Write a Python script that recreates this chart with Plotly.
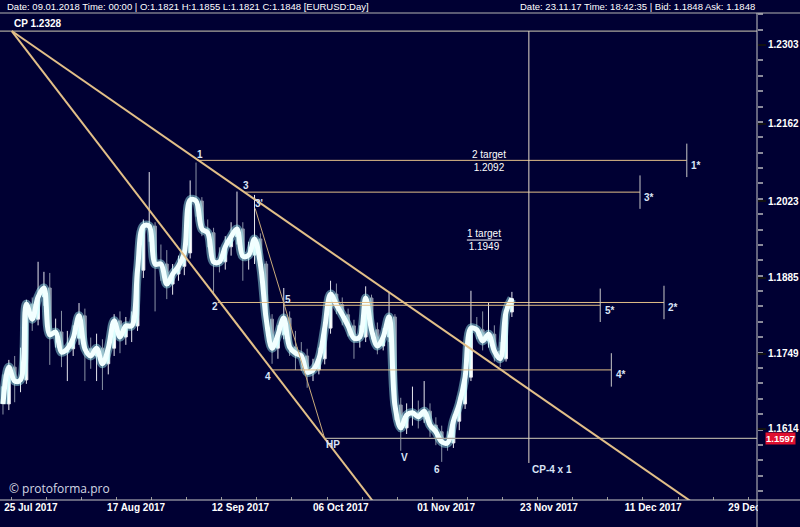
import plotly.graph_objects as go

# ---------------- data (daily EURUSD bars, bar index 0 = 25 Jul 2017) ----------------
open_ = [1.1690, 1.1659, 1.1725, 1.1700, 1.1702, 1.1838, 1.1811, 1.1851, 1.1867, 1.1783,
         1.1788, 1.1752, 1.1758, 1.1777, 1.1817, 1.1758, 1.1745, 1.1759, 1.1731, 1.1759,
         1.1808, 1.1779, 1.1799, 1.1799, 1.1899, 1.1978, 1.1978, 1.1910, 1.1910, 1.1874,
         1.1892, 1.1906, 1.1930, 1.2025, 1.2023, 1.1973, 1.1966, 1.1914, 1.1914, 1.1941,
         1.1959, 1.1973, 1.1924, 1.1926, 1.1955, 1.1910, 1.1811, 1.1759, 1.1783, 1.1813,
         1.1761, 1.1750, 1.1745, 1.1716, 1.1720, 1.1740, 1.1795, 1.1856, 1.1837, 1.1819,
         1.1799, 1.1777, 1.1779, 1.1849, 1.1792, 1.1763, 1.1779, 1.1815, 1.1657, 1.1616,
         1.1639, 1.1643, 1.1636, 1.1646, 1.1621, 1.1609, 1.1591, 1.1589, 1.1628, 1.1659,
         1.1707, 1.1795, 1.1792, 1.1772, 1.1784, 1.1754, 1.1740, 1.1824]
high = [1.1712, 1.1738, 1.1745, 1.1760, 1.1846, 1.1850, 1.1914, 1.1896, 1.1894, 1.1812,
        1.1826, 1.1790, 1.1800, 1.1840, 1.1830, 1.1778, 1.1785, 1.1775, 1.1770, 1.1820,
        1.1825, 1.1815, 1.1825, 1.1910, 1.1990, 1.2075, 1.1985, 1.1945, 1.1935, 1.1910,
        1.1925, 1.1945, 1.2060, 1.2092, 1.2030, 1.1990, 1.1975, 1.1940, 1.1960, 1.1985,
        1.2040, 1.1985, 1.1950, 1.2034, 1.1965, 1.1915, 1.1820, 1.1800, 1.1867, 1.1825,
        1.1790, 1.1770, 1.1758, 1.1740, 1.1760, 1.1808, 1.1880, 1.1875, 1.1850, 1.1830,
        1.1810, 1.1800, 1.1870, 1.1855, 1.1805, 1.1795, 1.1860, 1.1820, 1.1670, 1.1660,
        1.1690, 1.1665, 1.1700, 1.1660, 1.1635, 1.1620, 1.1610, 1.1640, 1.1672, 1.1720,
        1.1862, 1.1815, 1.1825, 1.1840, 1.1800, 1.1770, 1.1835, 1.1860]
low = [1.1640, 1.1648, 1.1662, 1.1680, 1.1695, 1.1790, 1.1800, 1.1835, 1.1729, 1.1760,
       1.1725, 1.1700, 1.1745, 1.1765, 1.1700, 1.1722, 1.1700, 1.1684, 1.1712, 1.1745,
       1.1750, 1.1765, 1.1770, 1.1790, 1.1885, 1.1950, 1.1825, 1.1880, 1.1847, 1.1855,
       1.1880, 1.1890, 1.1920, 1.1995, 1.1960, 1.1940, 1.1858, 1.1895, 1.1900, 1.1925,
       1.1945, 1.1880, 1.1900, 1.1910, 1.1895, 1.1790, 1.1731, 1.1740, 1.1775, 1.1745,
       1.1720, 1.1718, 1.1688, 1.1700, 1.1712, 1.1730, 1.1785, 1.1820, 1.1800, 1.1780,
       1.1740, 1.1760, 1.1770, 1.1775, 1.1748, 1.1755, 1.1770, 1.1630, 1.1575, 1.1605,
       1.1620, 1.1615, 1.1625, 1.1600, 1.1585, 1.1555, 1.1575, 1.1580, 1.1612, 1.1650,
       1.1700, 1.1775, 1.1755, 1.1760, 1.1735, 1.1725, 1.1735, 1.1815]
close = [1.1659, 1.1725, 1.1700, 1.1702, 1.1838, 1.1811, 1.1851, 1.1867, 1.1783, 1.1788,
         1.1752, 1.1758, 1.1777, 1.1817, 1.1758, 1.1745, 1.1759, 1.1731, 1.1759, 1.1808,
         1.1779, 1.1799, 1.1799, 1.1899, 1.1978, 1.1978, 1.1910, 1.1910, 1.1874, 1.1892,
         1.1906, 1.1930, 1.2025, 1.2023, 1.1973, 1.1966, 1.1914, 1.1914, 1.1941, 1.1959,
         1.1973, 1.1924, 1.1926, 1.1955, 1.1910, 1.1811, 1.1759, 1.1783, 1.1813, 1.1761,
         1.1750, 1.1745, 1.1716, 1.1720, 1.1740, 1.1795, 1.1856, 1.1837, 1.1819, 1.1799,
         1.1777, 1.1779, 1.1849, 1.1792, 1.1763, 1.1779, 1.1815, 1.1657, 1.1616, 1.1639,
         1.1643, 1.1636, 1.1646, 1.1621, 1.1609, 1.1591, 1.1589, 1.1628, 1.1659, 1.1707,
         1.1795, 1.1792, 1.1772, 1.1784, 1.1754, 1.1740, 1.1824, 1.1848]
bars = list(range(len(close)))

x_tick_bars = [0.2, 17.8, 35.7, 53.0, 70.8, 88.4, 106.3, 124.0]
x_tick_text = ["25 Jul 2017", "17 Aug 2017", "12 Sep 2017", "06 Oct 2017",
               "01 Nov 2017", "23 Nov 2017", "11 Dec 2017", "29 Dec 2017"]
y_tick_vals = [1.2303, 1.2162, 1.2023, 1.1885, 1.1749, 1.1614]

# key points of the construction (bar index, price)
cp_bar, cp_price = 1.5, 1.2328
hp_bar, hp_price = 55.0, 1.1597
p3_bar, p3_price = 41.4, 1.2038          # point 3 on the upper line
p3b_bar, p3b_price = 43.1, 1.2010        # point 3'
cp4_bar, cp4_low = 89.9, 1.1553          # CP-4 x 1 vertical

level_names = ["1", "3", "2", "5", "4"]
level_price = [1.2096, 1.2039, 1.1841, 1.1836, 1.1720]
level_start = [33.2, 41.4, 36.7, 47.9, 46.0]
level_end = [116.9, 108.9, 113.0, 102.1, 104.0]

point_text = ["1", "3", "3'", "2", "5", "4", "HP", "V", "6"]
point_bar = [33.7, 41.5, 43.8, 36.2, 48.7, 45.3, 56.4, 68.7, 74.2]
point_price = [1.2106, 1.2050, 1.2019, 1.1833, 1.1847, 1.1709, 1.1587, 1.1562, 1.1542]

target_text = ["2 target<br>1.2092", "1 target<br>1.1949"]
target_bar = [83.1, 82.2]
target_price = [1.2095, 1.1953]

# ---------------- layout geometry ----------------
W, H = 800, 527
ML, MR, MT, MB = 0, 43, 14, 27
PW, PH = W - ML - MR, H - MT - MB
X_RANGE = [-0.51, 128.9]
Y_RANGE = [1.14866, 1.23586]


def paper_x(px):
    return (px - ML) / PW


def paper_y(py):
    return (H - MB - py) / PH


BG = "#000033"
TAN = "#E2BF88"
GRAYL = "#A9A59D"
LBL = "#D9E4F7"
FONT = "Liberation Sans, Arial, sans-serif"

fig = go.Figure()

fig.add_trace(go.Candlestick(
    x=bars, open=open_, high=high, low=low, close=close,
    increasing=dict(line=dict(color="#E6E6EE", width=1), fillcolor="#FFFFFF"),
    decreasing=dict(line=dict(color="#8A92A6", width=1), fillcolor="#8A92A6"),
    whiskerwidth=0, hoverinfo="skip", showlegend=False))

fig.add_trace(go.Scatter(x=bars, y=close, mode="lines",
                         line=dict(color="rgba(170,255,255,0.45)", width=9, shape="spline", smoothing=1.0),
                         hoverinfo="skip", showlegend=False))
fig.add_trace(go.Scatter(x=bars, y=close, mode="lines",
                         line=dict(color="#F2FFFF", width=5, shape="spline", smoothing=1.0),
                         hoverinfo="skip", showlegend=False))


def extend(b0, p0, b1, p1, b_end):
    slope = (p1 - p0) / (b1 - b0)
    return p0 + slope * (b_end - b0)


# CP and HP horizontal lines (grey)
fig.add_trace(go.Scatter(x=[X_RANGE[0], X_RANGE[1]], y=[cp_price, cp_price], mode="lines",
                         line=dict(color=GRAYL, width=1.2), hoverinfo="skip", showlegend=False))
fig.add_trace(go.Scatter(x=[hp_bar, X_RANGE[1]], y=[hp_price, hp_price], mode="lines",
                         line=dict(color=GRAYL, width=1.2), hoverinfo="skip", showlegend=False))

# level lines
lx, ly = [], []
for s, e, p in zip(level_start, level_end, level_price):
    lx += [s, e, None]
    ly += [p, p, None]
fig.add_trace(go.Scatter(x=lx, y=ly, mode="lines", line=dict(color=TAN, width=1),
                         hoverinfo="skip", showlegend=False))

# level end markers
mx, my = [], []
for e, p in zip(level_end, level_price):
    mx += [e, e, None]
    my += [p + 0.0030, p - 0.0030, None]
fig.add_trace(go.Scatter(x=mx, y=my, mode="lines", line=dict(color="#C8C8C8", width=1),
                         hoverinfo="skip", showlegend=False))

# trend lines
far = 140
fig.add_trace(go.Scatter(x=[cp_bar, far], y=[cp_price, extend(cp_bar, cp_price, hp_bar, hp_price, far)],
                         mode="lines", line=dict(color=TAN, width=2), hoverinfo="skip", showlegend=False))
fig.add_trace(go.Scatter(x=[cp_bar, far], y=[cp_price, extend(cp_bar, cp_price, p3_bar, p3_price, far)],
                         mode="lines", line=dict(color=TAN, width=2), hoverinfo="skip", showlegend=False))
fig.add_trace(go.Scatter(x=[p3b_bar, hp_bar], y=[p3b_price, hp_price],
                         mode="lines", line=dict(color="#C9AA7A", width=1), hoverinfo="skip", showlegend=False))
# CP-4 x 1 vertical
fig.add_trace(go.Scatter(x=[cp4_bar, cp4_bar], y=[cp_price, cp4_low],
                         mode="lines", line=dict(color="#E6DCCB", width=1), hoverinfo="skip", showlegend=False))

annotations = []
for t, b, p in zip(point_text, point_bar, point_price):
    annotations.append(dict(x=b, y=p, xref="x", yref="y", text="<b>" + t + "</b>", showarrow=False,
                            font=dict(family=FONT, size=10, color=LBL)))
for n, e, p in zip(level_names, level_end, level_price):
    annotations.append(dict(x=e + 0.4, y=p - 0.0009, xref="x", yref="y", text="<b>" + n + "*</b>",
                            showarrow=False, xanchor="left",
                            font=dict(family=FONT, size=10, color=LBL)))
for t, b, p in zip(target_text, target_bar, target_price):
    annotations.append(dict(x=b, y=p, xref="x", yref="y", text=t, showarrow=False,
                            font=dict(family=FONT, size=10, color="#FFFFFF")))
annotations.append(dict(x=cp4_bar + 0.2, y=1.1542, xref="x", yref="y", text="<b>CP-4 x 1</b>",
                        showarrow=False, xanchor="left", font=dict(family=FONT, size=10, color=LBL)))
annotations.append(dict(x=cp_bar, y=1.2341, xref="x", yref="y", text="<b>CP " + f"{cp_price:.4f}</b>",
                        showarrow=False, xanchor="left", font=dict(family=FONT, size=10, color="#FFFFFF")))
# current price tag on the axis
annotations.append(dict(x=paper_x(765), y=hp_price, xref="paper", yref="y", text=f"<b>{hp_price:.4f}</b>",
                        showarrow=False, xanchor="left", bgcolor="#E0102F", borderpad=0,
                        font=dict(family=FONT, size=9.5, color="#FFFFFF")))
# header texts
annotations.append(dict(x=paper_x(5), y=paper_y(6.5), xref="paper", yref="paper",
                        text="Date: 09.01.2018 Time: 00:00 | O:1.1821 H:1.1855 L:1.1821 C:1.1848 [EURUSD:Day]",
                        showarrow=False, xanchor="left", yanchor="middle",
                        font=dict(family=FONT, size=9.5, color="#FFFFFF")))
annotations.append(dict(x=paper_x(757), y=paper_y(6.5), xref="paper", yref="paper",
                        text="Date: 23.11.17 Time: 18:42:35 | Bid: 1.1848 Ask: 1.1848",
                        showarrow=False, xanchor="right", yanchor="middle",
                        font=dict(family=FONT, size=9.5, color="#FFFFFF")))
annotations.append(dict(x=paper_x(7), y=paper_y(488), xref="paper", yref="paper",
                        text="© protoforma.pro", showarrow=False, xanchor="left", yanchor="middle",
                        font=dict(family="Open Sans, Noto Sans, sans-serif", size=12, color="#D4D8E4")))

shapes = [
    # header separator
    dict(type="line", xref="paper", yref="paper", x0=paper_x(0), x1=paper_x(800),
         y0=paper_y(13), y1=paper_y(13), line=dict(color="#B4B4B4", width=1)),
    # right frame line
    dict(type="line", xref="paper", yref="paper", x0=paper_x(757), x1=paper_x(757),
         y0=paper_y(13), y1=paper_y(527), line=dict(color="#C8C8C8", width=1)),
    # bottom frame line
    dict(type="line", xref="paper", yref="paper", x0=paper_x(0), x1=paper_x(800),
         y0=paper_y(500), y1=paper_y(500), line=dict(color="#C8C8C8", width=1)),
    # underline of "1 target"
    dict(type="line", xref="x", yref="y", x0=79.3, x1=85.3, y0=1.1953, y1=1.1953,
         line=dict(color="#FFFFFF", width=1)),
    # mask for clipped date label on the right panel
    dict(type="rect", xref="paper", yref="paper", x0=paper_x(758), x1=paper_x(800),
         y0=paper_y(527), y1=paper_y(501), fillcolor=BG, line=dict(width=0), layer="above"),
]

fig.update_layout(
    width=W, height=H, margin=dict(l=ML, r=MR, t=MT, b=MB),
    paper_bgcolor=BG, plot_bgcolor=BG, showlegend=False,
    annotations=annotations, shapes=shapes,
    xaxis=dict(range=X_RANGE, showgrid=False, zeroline=False, showline=False,
               rangeslider=dict(visible=False), tickmode="array",
               tickvals=x_tick_bars, ticktext=x_tick_text, ticks="",
               ticklabelposition="outside right",
               tickfont=dict(family=FONT, size=10, color="#FFFFFF", weight="bold"),
               minor=dict(ticks="inside", dtick=6, tick0=1.4, ticklen=3, tickcolor="#9A9A9A")),
    yaxis=dict(range=Y_RANGE, side="right", showgrid=False, zeroline=False, showline=False,
               tickmode="array", tickvals=y_tick_vals, ticktext=[f"{v:.4f}" for v in y_tick_vals],
               ticks="outside", ticklen=8, tickcolor="#111111", tickwidth=2,
               tickfont=dict(family=FONT, size=10, color="#FFFFFF", weight="bold"),
               minor=dict(ticks="outside", dtick=0.00276, tick0=1.2303, ticklen=5,
                          tickcolor="#8A8A9A")),
)

fig.write_html("out.html", config={"displayModeBar": False},
               post_script="document.body.style.margin='0px';")
